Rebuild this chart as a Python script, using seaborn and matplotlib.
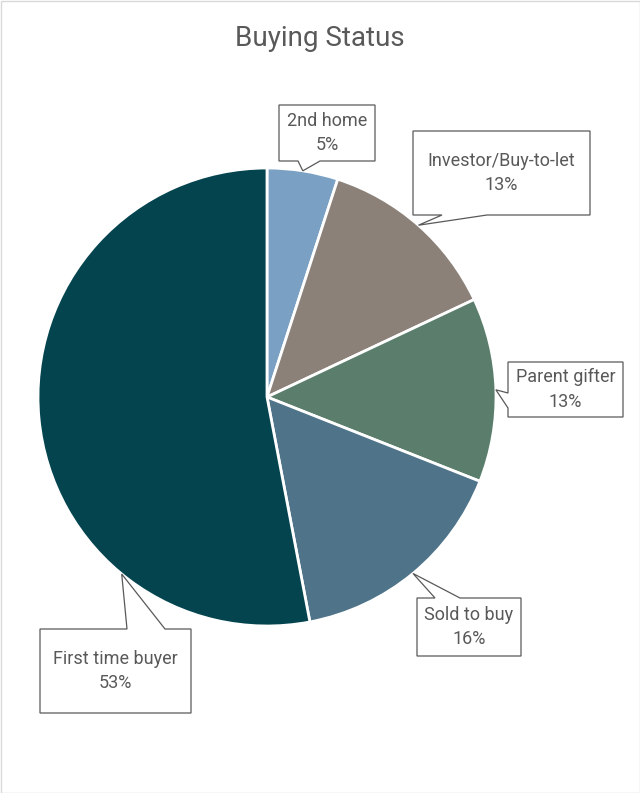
import numpy as np
import matplotlib
matplotlib.use("Agg")
import matplotlib.pyplot as plt
from matplotlib.patches import Polygon, Rectangle
import seaborn as sns

# data
labels = ["2nd home", "Investor/Buy-to-let", "Parent gifter", "Sold to buy", "First time buyer"]
shares = [5, 13, 13, 16, 53]
colors = ["#7AA0C4", "#8B8178", "#5B7E6C", "#4F7489", "#03444F"]

sns.set_theme(style="white")
plt.rcParams["font.family"] = ["Roboto", "DejaVu Sans"]

W, H = 640, 793
fig = plt.figure(figsize=(W / 100, H / 100), dpi=100)
ax = fig.add_axes([0, 0, 1, 1])

def fy(y):
    # pixel row (top-down) -> data y
    return H - y

cx, cy, R = 267, fy(397), 229
wedges, _ = ax.pie(shares, colors=colors, startangle=90, counterclock=False,
                   center=(cx, cy), radius=R, frame=True,
                   wedgeprops=dict(edgecolor="white", linewidth=2))
ax.set_xlim(0, W)
ax.set_ylim(0, H)
ax.set_aspect("equal")
ax.axis("off")

# callout boxes: (x0, x1, top, bottom), side of notch, notch base span, spot on wedge
boxes = [
    ((279, 375, 105, 161), "bottom", (298, 320), 0.5),
    ((413, 590, 131, 215), "bottom", (442, 487), 0.5),
    ((508, 623, 362, 417), "left", (393, 408), 0.5),
    ((417, 521, 598, 656), "top", (435, 460), 0.5),
    ((40, 191, 629, 713), "top", (127, 165), 0.737),
]

edge = "#595959"
txt = "#595959"
for w, lab, pct, (box, side, (a, b), frac) in zip(wedges, labels, shares, boxes):
    ang = np.deg2rad(w.theta1 + frac * (w.theta2 - w.theta1))
    tx, ty = cx + R * np.cos(ang), cy + R * np.sin(ang)
    x0, x1, t, bt = box
    yt, yb = fy(t), fy(bt)
    if side == "bottom":
        pts = [(x0, yt), (x1, yt), (x1, yb), (b, yb), (tx, ty), (a, yb), (x0, yb)]
    elif side == "top":
        pts = [(x0, yt), (a, yt), (tx, ty), (b, yt), (x1, yt), (x1, yb), (x0, yb)]
    else:
        pts = [(x0, yt), (x1, yt), (x1, yb), (x0, yb), (x0, fy(b)), (tx, ty), (x0, fy(a))]
    ax.add_patch(Polygon(pts, closed=True, facecolor="white", edgecolor=edge,
                         linewidth=0.9, zorder=5))
    ax.text((x0 + x1) / 2, (yt + yb) / 2, f"{lab}\n{pct}%", ha="center", va="center",
            fontsize=13, color=txt, linespacing=1.45, zorder=6)

ax.text(W / 2, fy(38), "Buying Status", ha="center", va="center",
        fontsize=20, color=txt)

ax.add_patch(Rectangle((0.5, 0.5), W - 1, H - 1, fill=False, edgecolor="#D9D9D9",
                       linewidth=1, zorder=10))

fig.savefig("out.png", dpi=100)
